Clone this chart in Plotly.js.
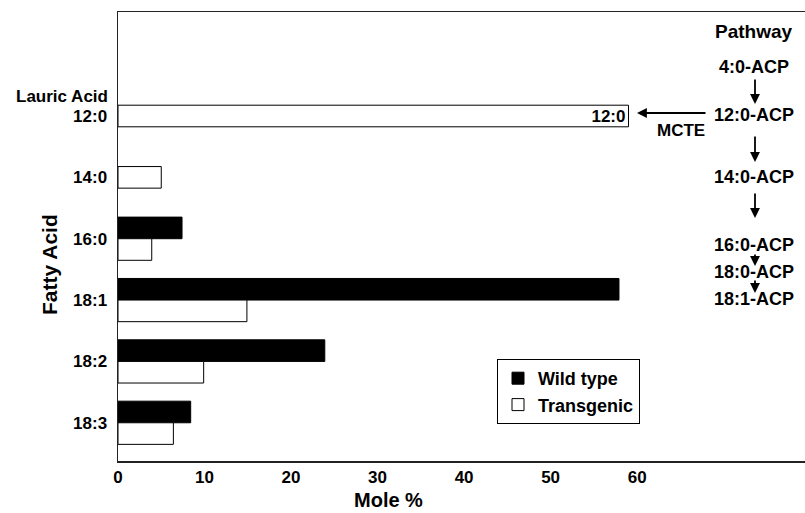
<!DOCTYPE html>
<html>
<head>
<meta charset="utf-8">
<script src="https://cdn.plot.ly/plotly-3.0.1.min.js"></script>
<style>html,body{margin:0;padding:0;background:#fff;}#chart{width:805px;height:513px;}</style>
</head>
<body>
<div id="chart"></div>
<script>
// ---- data ----
const categories = ['12:0', '14:0', '16:0', '18:1', '18:2', '18:3'];
const wildType   = [null, null, 7.4, 57.9, 23.9, 8.4];
const transgenic = [59.0, 5.0, 3.9, 14.9, 9.9, 6.4];
const barLabels  = ['12:0', '', '', '', '', ''];
const xTickVals  = [0, 10, 20, 30, 40, 50, 60];
const pathwaySteps = ['4:0-ACP', '12:0-ACP', '14:0-ACP', '16:0-ACP', '18:0-ACP', '18:1-ACP'];
const seriesNames = ['Wild type', 'Transgenic'];

// ---- layout helpers (pixel -> paper) ----
const W = 805, H = 513, L = 118, R = 0, T = 12, B = 52;
const PW = W - L - R, PH = H - T - B;
const px = v => (v - L) / PW;
const py = v => (H - B - v) / PH;

const FONT = 'Liberation Sans, Arial, Helvetica, sans-serif';
const barW = 0.352;

const traces = [
  {
    type: 'bar', orientation: 'h', name: seriesNames[0],
    y: categories, x: wildType,
    width: barW, offset: -barW,
    marker: {color: '#000', line: {color: '#000', width: 1}},
    hoverinfo: 'x+y'
  },
  {
    type: 'bar', orientation: 'h', name: seriesNames[1],
    y: categories, x: transgenic,
    width: barW,
    offset: wildType.map(v => v == null ? -barW / 2 : 0),
    marker: {color: '#fff', line: {color: '#000', width: 1}},
    text: barLabels, textposition: 'inside', insidetextanchor: 'end',
    constraintext: 'none', textangle: 0,
    textfont: {family: FONT, size: 17, color: '#000', weight: 'bold'},
    hoverinfo: 'x+y'
  }
];

const annotations = [];
function txt(text, x, y, size, opts) {
  annotations.push(Object.assign({
    text: '<b>' + text + '</b>', xref: 'paper', yref: 'paper',
    x: px(x), y: py(y), xanchor: 'center', yanchor: 'middle',
    showarrow: false, font: {family: FONT, size: size, color: '#000'}
  }, opts || {}));
}
function arrow(x0, y0, x1, y1) {
  annotations.push({
    text: '', xref: 'paper', yref: 'paper', x: px(x1), y: py(y1),
    ax: x0 - x1, ay: y0 - y1, axref: 'pixel', ayref: 'pixel',
    showarrow: true, arrowhead: 2, arrowsize: 1.1, arrowwidth: 1.8, arrowcolor: '#000'
  });
}

// axis titles
txt('Mole %', 388, 500, 20);
txt('Fatty Acid', 49, 265, 21, {textangle: -90});
txt('Lauric Acid', 110, 97, 17, {xanchor: 'right'});

// pathway
txt('Pathway', 754, 32, 19);
const stepY = [67, 115, 177, 245, 272, 299];
pathwaySteps.forEach((s, i) => txt(s, 754, stepY[i], 18));
arrow(755, 78, 755, 104);
arrow(755, 135, 755, 162);
arrow(755, 192, 755, 218);
arrow(755, 253, 755, 266);
arrow(755, 279, 755, 293);
arrow(707, 113, 637, 113);
txt('MCTE', 681, 130, 17);

const layout = {
  width: W, height: H,
  margin: {l: L, r: R, t: T, b: B, pad: 0},
  paper_bgcolor: '#fff', plot_bgcolor: '#fff',
  font: {family: FONT, color: '#000'},
  barmode: 'overlay',
  showlegend: true,
  legend: {
    x: px(497), y: py(359), xanchor: 'left', yanchor: 'top',
    bgcolor: '#fff', bordercolor: '#000', borderwidth: 1,
    font: {family: FONT, size: 18, color: '#000', weight: 'bold'},
    traceorder: 'normal', tracegroupgap: 0, itemwidth: 30
  },
  xaxis: {
    range: [0, 79.4], tickvals: xTickVals, ticks: '',
    showgrid: false, zeroline: false,
    showline: true, mirror: true, linecolor: '#222', linewidth: 1.5,
    tickfont: {family: FONT, size: 17, color: '#000', weight: 'bold'},
    ticklabelstandoff: 0
  },
  yaxis: {
    type: 'category', categoryorder: 'array', categoryarray: categories,
    range: [5.623, -1.695], ticks: '',
    showgrid: false, zeroline: false,
    showline: true, linecolor: '#222', linewidth: 1.5,
    tickfont: {family: FONT, size: 17, color: '#000', weight: 'bold'},
    ticklabelstandoff: 6
  },
  annotations: annotations
};

Plotly.newPlot('chart', traces, layout, {staticPlot: true, displayModeBar: false});
</script>
</body>
</html>
